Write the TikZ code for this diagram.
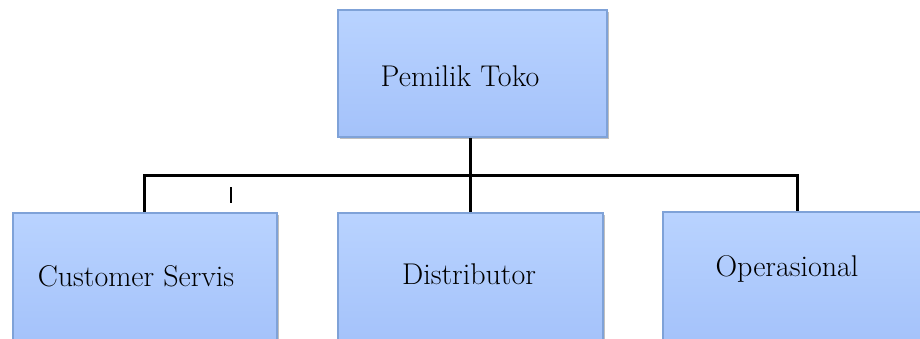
\documentclass[tikz,border=0pt]{standalone}
\usetikzlibrary{shadows}
\begin{document}
\begin{tikzpicture}[x=1pt,y=-1pt,
  unit/.style={draw=boxedge, line width=1.5pt,
    top color=boxtop, bottom color=boxbot,
    drop shadow={shadow xshift=2pt, shadow yshift=-2pt, opacity=0.25, fill=black}},
  label/.style={font=\fontsize{30}{34}\selectfont, text=black},
  link/.style={draw=black, line width=3pt}]
\definecolor{boxtop}{HTML}{B9D3FF}
\definecolor{boxbot}{HTML}{A4C2FA}
\definecolor{boxedge}{HTML}{7FA2D8}
\useasboundingbox (0,0) rectangle (920,338);
\clip (0,0) rectangle (920,338);
% boxes
\path[unit] (338,10) rectangle (607,137);
\node[label] (owner) at (460,76) {Pemilik Toko};
\path[unit] (13,213) rectangle (277,345);
\node[label] (cs) at (136,276) {Customer Servis};
\path[unit] (338,213) rectangle (603,345);
\node[label] (dist) at (469,274) {Distributor};
\path[unit] (663,212) rectangle (940,345);
\node[label] (ops) at (787,269) {Operasional};
% connectors
\coordinate (top) at (470,138);
\coordinate (bar) at (470,175);
\coordinate (csT) at (144,212);
\coordinate (distT) at (470,212);
\coordinate (opsT) at (797,211);
\draw[link] (top) -- (bar);
\draw[link] (csT) |- (bar) -| (opsT);
\draw[link] (bar) -- (distT);
% small stroke under the bar
\draw[black, line width=1.3pt] (231,187) -- (231,203);
\end{tikzpicture}
\end{document}
